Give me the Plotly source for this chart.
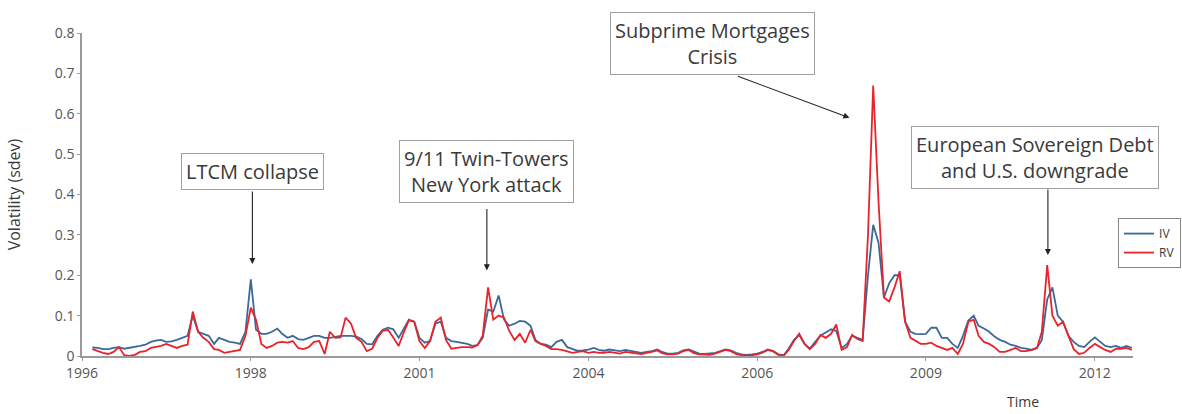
import pandas as pd
import plotly.graph_objects as go

# Monthly volatility series, March 1996 - August 2012
dates = pd.date_range("1996-03-01", periods=198, freq="MS")

iv = [
    0.021, 0.020, 0.017, 0.017, 0.020, 0.022, 0.018, 0.020, 0.022, 0.025,   # 1996
    0.028, 0.035, 0.038, 0.040, 0.035, 0.036, 0.040, 0.045, 0.050, 0.100, 0.060, 0.055,  # 1997
    0.050, 0.030, 0.045, 0.040, 0.035, 0.033, 0.030, 0.060, 0.190, 0.065, 0.055, 0.055,  # 1998
    0.060, 0.068, 0.055, 0.045, 0.050, 0.042, 0.040, 0.045, 0.050, 0.050, 0.045, 0.045,  # 1999
    0.048, 0.050, 0.050, 0.050, 0.048, 0.042, 0.030, 0.029, 0.050, 0.065, 0.070, 0.066,  # 2000
    0.045, 0.070, 0.090, 0.085, 0.045, 0.033, 0.037, 0.080, 0.085, 0.045, 0.037, 0.035,  # 2001
    0.033, 0.030, 0.025, 0.027, 0.045, 0.115, 0.110, 0.150, 0.090, 0.075, 0.080, 0.087,  # 2002
    0.085, 0.075, 0.040, 0.030, 0.028, 0.022, 0.035, 0.040, 0.022, 0.018, 0.013, 0.014,  # 2003
    0.016, 0.020, 0.015, 0.013, 0.016, 0.014, 0.012, 0.015, 0.012, 0.010, 0.008, 0.010,  # 2004
    0.012, 0.016, 0.010, 0.006, 0.006, 0.008, 0.014, 0.016, 0.010, 0.006, 0.005, 0.006,  # 2005
    0.008, 0.012, 0.016, 0.014, 0.008, 0.004, 0.003, 0.004, 0.006, 0.010, 0.016, 0.012,  # 2006
    0.004, 0.002, 0.018, 0.040, 0.052, 0.030, 0.018, 0.035, 0.050, 0.058, 0.066, 0.062,  # 2007
    0.020, 0.030, 0.050, 0.045, 0.040, 0.200, 0.325, 0.280, 0.145, 0.180, 0.200, 0.200,  # 2008
    0.085, 0.060, 0.055, 0.054, 0.055, 0.070, 0.070, 0.045, 0.045, 0.030, 0.020, 0.050,  # 2009
    0.088, 0.100, 0.075, 0.068, 0.060, 0.048, 0.040, 0.035, 0.028, 0.025, 0.020, 0.018,  # 2010
    0.015, 0.020, 0.040, 0.140, 0.170, 0.100, 0.085, 0.050, 0.035, 0.025, 0.022, 0.035,  # 2011
    0.046, 0.035, 0.025, 0.022, 0.025, 0.020, 0.025, 0.020,                              # 2012
]

rv = [
    0.017, 0.012, 0.008, 0.005, 0.010, 0.022, 0.002, 0.000, 0.003, 0.010,   # 1996
    0.012, 0.020, 0.022, 0.025, 0.030, 0.025, 0.020, 0.025, 0.028, 0.110, 0.060, 0.045,  # 1997
    0.035, 0.017, 0.015, 0.008, 0.010, 0.012, 0.015, 0.050, 0.120, 0.090, 0.030, 0.020,  # 1998
    0.025, 0.033, 0.035, 0.033, 0.037, 0.020, 0.017, 0.022, 0.035, 0.037, 0.005, 0.060,  # 1999
    0.045, 0.046, 0.095, 0.080, 0.045, 0.035, 0.012, 0.018, 0.045, 0.062, 0.065, 0.046,  # 2000
    0.025, 0.060, 0.088, 0.085, 0.037, 0.020, 0.037, 0.085, 0.095, 0.040, 0.018, 0.020,  # 2001
    0.022, 0.022, 0.021, 0.027, 0.050, 0.170, 0.090, 0.100, 0.095, 0.062, 0.040, 0.055,  # 2002
    0.033, 0.065, 0.037, 0.030, 0.025, 0.017, 0.017, 0.015, 0.012, 0.008, 0.010, 0.012,  # 2003
    0.008, 0.010, 0.008, 0.008, 0.010, 0.007, 0.006, 0.010, 0.008, 0.006, 0.005, 0.008,  # 2004
    0.010, 0.014, 0.007, 0.004, 0.004, 0.006, 0.012, 0.015, 0.007, 0.004, 0.004, 0.003,  # 2005
    0.006, 0.010, 0.015, 0.012, 0.005, 0.002, 0.001, 0.002, 0.004, 0.008, 0.015, 0.012,  # 2006
    0.003, 0.001, 0.015, 0.037, 0.055, 0.030, 0.017, 0.030, 0.052, 0.045, 0.055, 0.078,  # 2007
    0.015, 0.022, 0.052, 0.042, 0.037, 0.300, 0.670, 0.380, 0.145, 0.135, 0.170, 0.210,  # 2008
    0.085, 0.045, 0.037, 0.030, 0.030, 0.033, 0.025, 0.020, 0.015, 0.020, 0.005, 0.030,  # 2009
    0.085, 0.090, 0.050, 0.035, 0.030, 0.022, 0.010, 0.010, 0.015, 0.020, 0.012, 0.012,  # 2010
    0.015, 0.020, 0.060, 0.225, 0.100, 0.075, 0.085, 0.050, 0.017, 0.005, 0.008, 0.020,  # 2011
    0.030, 0.022, 0.015, 0.010, 0.018, 0.018, 0.020, 0.015,                              # 2012
]

# Axis ticks sit every 2 years 8 months; labels show the year only
tick_dates = ["1996-01-01", "1998-09-01", "2001-05-01", "2004-01-01",
              "2006-09-01", "2009-05-01", "2012-01-01"]
tick_labels = ["1996", "1998", "2001", "2004", "2006", "2009", "2012"]
y_ticks = [0, 0.1, 0.2, 0.3, 0.4, 0.5, 0.6, 0.7, 0.8]
y_labels = ["0", "0.1", "0.2", "0.3", "0.4", "0.5", "0.6", "0.7", "0.8"]

# Event call-outs: label and box centre (date, value)
events = [
    ("LTCM collapse", "1998-09-10", 0.458),
    ("9/11 Twin-Towers<br>New York attack", "2002-05-25", 0.458),
    ("Subprime Mortgages<br>Crisis", "2005-12-15", 0.773),
    ("European Sovereign Debt<br>and U.S. downgrade", "2011-01-20", 0.492),
]

# Arrow tips (date, value) and arrow tail offsets in pixels
arrows = [
    ("1998-09-10", 0.228, 0, -74),
    ("2002-05-25", 0.212, 0, -63),
    ("2008-02-15", 0.590, -113, -42),
    ("2011-04-05", 0.250, 0, -67),
]

FONT = "Open Sans"
TEXT = "#3a3a3a"
AXIS = "#9a9a9a"

fig = go.Figure()
fig.add_trace(go.Scatter(x=dates, y=iv, name="IV", mode="lines",
                         line=dict(color="#3b6a98", width=1.8)))
fig.add_trace(go.Scatter(x=dates, y=rv, name="RV", mode="lines",
                         line=dict(color="#e8232b", width=1.8)))

for label, bx, by in events:
    fig.add_annotation(x=bx, y=by, xref="x", yref="y", text=label,
                       showarrow=False, font=dict(family=FONT, size=20, color=TEXT),
                       bgcolor="white", bordercolor="#a0a0a0", borderwidth=1,
                       borderpad=4, align="center")

for tx, ty, ax, ay in arrows:
    fig.add_annotation(x=tx, y=ty, xref="x", yref="y", text="",
                       showarrow=True, ax=ax, ay=ay, arrowhead=2,
                       arrowsize=1.1, arrowwidth=1.1, arrowcolor="#222222")

fig.add_annotation(x=0.912, y=-0.176, xref="paper", yref="paper", text="Time",
                   showarrow=False, yanchor="bottom",
                   font=dict(family=FONT, size=14, color=TEXT))

fig.update_layout(
    width=1182, height=414,
    margin=dict(l=82, r=49, t=33, b=58, autoexpand=False),
    paper_bgcolor="white", plot_bgcolor="white",
    font=dict(family=FONT, color=TEXT),
    showlegend=True,
    legend=dict(x=1.0457, xanchor="right", y=0.427, yanchor="top",
                bgcolor="white", bordercolor="#888888", borderwidth=1,
                font=dict(family=FONT, size=12, color=TEXT),
                itemwidth=30, tracegroupgap=0),
    xaxis=dict(range=["1996-01-01", "2012-08-08"], tickvals=tick_dates,
               ticktext=tick_labels, showgrid=False, zeroline=False,
               showline=True, linecolor=AXIS, linewidth=2,
               ticks="outside", ticklen=3, tickcolor=AXIS,
               tickfont=dict(family=FONT, size=14, color="#555555")),
    yaxis=dict(range=[0, 0.8], tickvals=y_ticks, ticktext=y_labels,
               showgrid=False, zeroline=False, showline=True,
               linecolor=AXIS, linewidth=1.5, ticks="outside", ticklen=3,
               tickcolor=AXIS,
               tickfont=dict(family=FONT, size=14, color="#555555"),
               title=dict(text="Volatility (sdev)", standoff=30,
                          font=dict(family=FONT, size=16, color=TEXT))),
)

fig.write_html("out.html")
